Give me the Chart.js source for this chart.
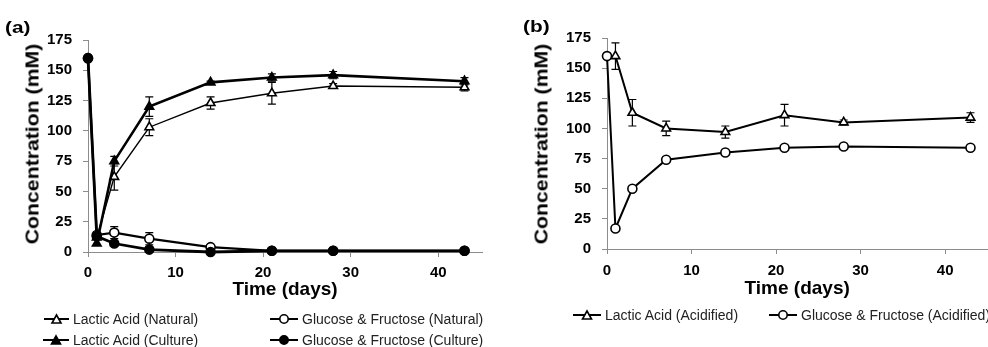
<!DOCTYPE html>
<html>
<head>
<meta charset="utf-8">
<script src="https://cdn.jsdelivr.net/npm/chart.js@4/dist/chart.umd.min.js"></script>
<style>
  html, body { margin: 0; padding: 0; background: #fff; overflow: hidden; width: 988px; height: 347px; }
  body { position: relative; font-family: "Liberation Sans", Arial, sans-serif; }
  .wrap { position: absolute; top: 0; }
  .panel-label { position: absolute; font-weight: bold; font-size: 16px; color: #000; transform-origin: left top; transform: scaleX(1.3); }
  .ytitle { position: absolute; font-weight: bold; font-size: 18px; color: #000; white-space: nowrap; transform: translate(-50%, -50%) rotate(-90deg) scaleX(1.18); }
  .leg { position: absolute; display: flex; align-items: center; font-size: 14px; color: #222; white-space: nowrap; }
  .leg svg { margin-right: 4px; }
</style>
</head>
<body>
<div class="wrap" style="left:0;width:494px;height:347px;"><canvas id="ca" width="494" height="347"></canvas></div>
<div class="wrap" style="left:494px;width:500px;height:347px;"><canvas id="cb" width="500" height="347"></canvas></div>

<div class="panel-label" style="left:5px;top:19px;">(a)</div>
<div class="panel-label" style="left:523px;top:18px;">(b)</div>
<div class="ytitle" style="left:33px;top:144px;">Concentration (mM)</div>
<div class="ytitle" style="left:542px;top:144px;">Concentration (mM)</div>

<div id="legA"></div>
<div id="legB"></div>

<script>
// ---------- DATA ----------
const days = [0, 1, 3, 7, 14, 21, 28, 43];

// Panel (a)
const lacticNatural      = [null, 12, 62, 103, 123, 131, 137, 136];
const lacticNaturalErr   = [0, 0, 11, 7, 5, 9, 2, 3];
const lacticCulture      = [null, 7, 75, 120, 140, 144, 146, 141];
const lacticCultureErr   = [0, 0, 4, 8, 1, 3, 3, 3];
const sugarNatural       = [160, 14, 16, 11, 4, 1, 1, 1];
const sugarNaturalErr    = [0, 0, 5, 5, 1, 0, 0, 0];
const sugarCulture       = [160, 13, 7, 2, 0, 1, 1, 1];
const sugarCultureErr    = [0, 0, 0, 0, 0, 0, 0, 0];

// Panel (b)
const lacticAcidified    = [null, 160, 113, 100, 97, 111, 105, 109];
const lacticAcidifiedErr = [0, 11, 11, 6, 5, 9, 2, 4];
const sugarAcidified     = [160, 17, 50, 74, 80, 84, 85, 84];
const sugarAcidifiedErr  = [0, 0, 0, 0, 0, 0, 0, 0];

const yTicks = [0, 25, 50, 75, 100, 125, 150, 175];
const xTicks = [0, 10, 20, 30, 40];
const xTitle = 'Time (days)';

const legendA = [
  { label: 'Lactic Acid (Natural)', marker: 'triangle', filled: false },
  { label: 'Glucose & Fructose (Natural)', marker: 'circle', filled: false },
  { label: 'Lactic Acid (Culture)', marker: 'triangle', filled: true },
  { label: 'Glucose & Fructose (Culture)', marker: 'circle', filled: true }
];
const legendB = [
  { label: 'Lactic Acid (Acidified)', marker: 'triangle', filled: false },
  { label: 'Glucose & Fructose (Acidified)', marker: 'circle', filled: false }
];

// ---------- HELPERS ----------
const pts = (vals) => days.map((d, i) => ({ x: d, y: vals[i] }));

const errorBars = {
  id: 'errorBars',
  beforeDatasetsDraw(chart) {
    const ctx = chart.ctx, xs = chart.scales.x, ys = chart.scales.y;
    chart.data.datasets.forEach((ds) => {
      if (!ds.errors) return;
      ctx.save();
      ctx.strokeStyle = '#000';
      ctx.lineWidth = 1.2;
      ds.data.forEach((p, j) => {
        const e = ds.errors[j];
        if (!e || p.y == null) return;
        const x = xs.getPixelForValue(p.x);
        const yt = ys.getPixelForValue(p.y + e);
        const yb = ys.getPixelForValue(p.y - e);
        ctx.beginPath();
        ctx.moveTo(x, yt); ctx.lineTo(x, yb);
        ctx.moveTo(x - 4, yt); ctx.lineTo(x + 4, yt);
        ctx.moveTo(x - 4, yb); ctx.lineTo(x + 4, yb);
        ctx.stroke();
      });
      ctx.restore();
    });
  }
};

function ds(label, vals, errs, style, filled, lw) {
  return {
    label, data: pts(vals), errors: errs,
    borderColor: '#000', borderWidth: lw,
    pointStyle: style, pointRadius: style === 'triangle' ? 5 : 4.5,
    pointBackgroundColor: filled ? '#000' : '#fff',
    pointBorderColor: '#000', pointBorderWidth: 1.6,
    tension: 0, clip: false, spanGaps: false, fill: false
  };
}

const tickFont = { family: 'Liberation Sans', size: 15, weight: 'bold' };

function makeOptions(yWidth, xHeight, pad, tickPad) {
  return {
    responsive: false, animation: false, devicePixelRatio: 1,
    layout: { padding: pad },
    plugins: { legend: { display: false }, tooltip: { enabled: false } },
    scales: {
      x: {
        type: 'linear', min: 0, max: 45,
        afterFit: (s) => { s.height = xHeight; },
        afterBuildTicks: (s) => { s.ticks = xTicks.map(v => ({ value: v })); },
        ticks: { font: tickFont, color: '#000', padding: tickPad, maxRotation: 0 },
        grid: { drawOnChartArea: false, drawTicks: true, tickLength: 5, color: '#8c8c8c' },
        border: { color: '#8c8c8c', width: 1 },
        title: { display: true, text: xTitle, color: '#000', padding: 0,
                 font: { family: 'Liberation Sans', size: 19, weight: 'bold' } }
      },
      y: {
        type: 'linear', min: 0, max: 175,
        afterFit: (s) => { s.width = yWidth; },
        afterBuildTicks: (s) => { s.ticks = yTicks.map(v => ({ value: v })); },
        ticks: { font: tickFont, color: '#000', padding: 11 },
        grid: { drawOnChartArea: false, drawTicks: true, tickLength: 5, color: '#8c8c8c' },
        border: { color: '#8c8c8c', width: 1 }
      }
    }
  };
}

// First dataset is drawn on top in Chart.js.
new Chart(document.getElementById('ca'), {
  type: 'line',
  data: { datasets: [
    ds('Glucose & Fructose (Culture)', sugarCulture, sugarCultureErr, 'circle', true, 2.8),
    ds('Lactic Acid (Culture)', lacticCulture, lacticCultureErr, 'triangle', true, 2.6),
    ds('Lactic Acid (Natural)', lacticNatural, lacticNaturalErr, 'triangle', false, 1.4),
    ds('Glucose & Fructose (Natural)', sugarNatural, sugarNaturalErr, 'circle', false, 2.2)
  ]},
  options: makeOptions(88, 49, { top: 40, right: 12, bottom: 46, left: 0 }, 7),
  plugins: [errorBars]
});

new Chart(document.getElementById('cb'), {
  type: 'line',
  data: { datasets: [
    ds('Lactic Acid (Acidified)', lacticAcidified, lacticAcidifiedErr, 'triangle', false, 2),
    ds('Glucose & Fructose (Acidified)', sugarAcidified, sugarAcidifiedErr, 'circle', false, 2)
  ]},
  options: makeOptions(113, 51, { top: 38, right: 2, bottom: 47, left: 0 }, 8),
  plugins: [errorBars]
});

// ---------- HTML LEGENDS ----------
function symbol(marker, filled, w) {
  const c = w / 2, fill = filled ? '#000' : '#fff';
  const m = marker === 'triangle'
    ? `<polygon points="${c},4 ${c - 4.5},12 ${c + 4.5},12" fill="${fill}" stroke="#000" stroke-width="1.6"/>`
    : `<circle cx="${c}" cy="8" r="4.2" fill="${fill}" stroke="#000" stroke-width="1.6"/>`;
  return `<svg width="${w}" height="16"><line x1="0" y1="8" x2="${w}" y2="8" stroke="#000" stroke-width="2"/>${m}</svg>`;
}
function placeLegend(containerId, items, positions) {
  const el = document.getElementById(containerId);
  items.forEach((it, i) => {
    const p = positions[i];
    const d = document.createElement('div');
    d.className = 'leg';
    d.style.left = p.x + 'px';
    d.style.top = (p.y - 8) + 'px';
    d.innerHTML = symbol(it.marker, it.filled, p.w) + '<span>' + it.label + '</span>';
    el.appendChild(d);
  });
}
placeLegend('legA', legendA, [
  { x: 44, y: 319, w: 25 }, { x: 270, y: 319, w: 28 },
  { x: 43, y: 340, w: 26 }, { x: 270, y: 340, w: 28 }
]);
placeLegend('legB', legendB, [
  { x: 573, y: 315, w: 28 }, { x: 769, y: 315, w: 28 }
]);
</script>
</body>
</html>
